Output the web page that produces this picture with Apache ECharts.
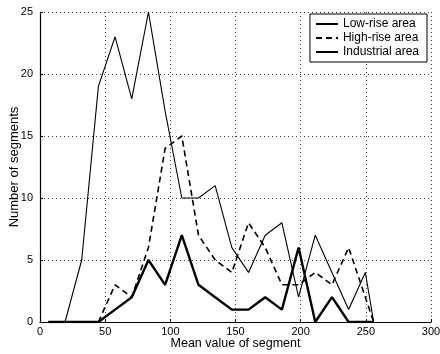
<!DOCTYPE html>
<html>
<head>
<meta charset="utf-8">
<script src="https://cdn.jsdelivr.net/npm/echarts@6/dist/echarts.min.js"></script>
<style>
  html, body { margin: 0; padding: 0; background: #fff; }
  #chart { width: 440px; height: 354px; }
</style>
</head>
<body>
<div id="chart"></div>
<script>
// Bin centres of the segment mean value histogram
const binCentres = [6.4, 19.2, 32, 44.8, 57.6, 70.4, 83.2, 96, 108.8, 121.6, 134.4,
                    147.2, 160, 172.8, 185.6, 198.4, 211.2, 224, 236.8, 249.6, 256];
// Number of segments per bin for each area type
const lowRise    = [0, 0, 5, 19, 23, 18, 25, 17, 10, 10, 11, 6, 4, 7, 8, 2, 7, 4, 1, 4, 0];
const highRise   = [0, 0, 0, 0, 3, 2, 6, 14, 15, 7, 5, 4, 8, 6, 3, 3, 4, 3, 6, 2, 0];
const industrial = [0, 0, 0, 0, 1, 2, 5, 3, 7, 3, 2, 1, 1, 2, 1, 6, 0, 2, 0, 0, 0];

const xTicks = [0, 50, 100, 150, 200, 250, 300];
const yTicks = [0, 5, 10, 15, 20, 25];

const pairs = ys => binCentres.map((x, i) => [x, ys[i]]);

const font = 'Liberation Sans, Arial, Helvetica, sans-serif';
const gridLine = { show: true, lineStyle: { color: '#444', type: [1, 3], width: 1 } };

const chart = echarts.init(document.getElementById('chart'), null, { renderer: 'canvas' });
chart.setOption({
  animation: false,
  backgroundColor: '#fff',
  textStyle: { fontFamily: font, color: '#000' },
  grid: { left: 40, right: 9, top: 12, bottom: 32, containLabel: false, outerBoundsMode: 'none' },
  legend: {
    orient: 'vertical',
    right: 13,
    top: 14,
    padding: [4, 8, 4, 5],
    itemGap: 2,
    itemWidth: 22,
    itemHeight: 12,
    backgroundColor: '#fff',
    borderColor: '#000',
    borderWidth: 1,
    borderRadius: 0,
    // line samples only, no marker in the middle
    itemStyle: { opacity: 0 },
    textStyle: { fontFamily: font, fontSize: 12, color: '#000' },
    data: ['Low-rise area', 'High-rise area', 'Industrial area']
  },
  xAxis: {
    type: 'value',
    min: xTicks[0],
    max: xTicks[xTicks.length - 1],
    interval: 50,
    name: 'Mean value of segment',
    nameLocation: 'middle',
    nameGap: 15,
    nameMoveOverlap: false,
    nameTextStyle: { fontFamily: font, fontSize: 12.5, color: '#000' },
    axisLine: { onZero: false, lineStyle: { color: '#000', width: 1.2 } },
    axisTick: { show: true, inside: true, length: 3, lineStyle: { color: '#000' } },
    axisLabel: { fontFamily: font, fontSize: 11, color: '#000', margin: 4 },
    splitLine: gridLine
  },
  yAxis: {
    type: 'value',
    min: yTicks[0],
    max: yTicks[yTicks.length - 1],
    interval: 5,
    name: 'Number of segments',
    nameLocation: 'middle',
    nameGap: 19,
    nameMoveOverlap: false,
    nameTextStyle: { fontFamily: font, fontSize: 13, color: '#000' },
    axisLine: { show: true, lineStyle: { color: '#000', width: 1.2 } },
    axisTick: { show: true, inside: true, length: 3, lineStyle: { color: '#000' } },
    axisLabel: { fontFamily: font, fontSize: 11, color: '#000', margin: 7 },
    splitLine: gridLine
  },
  series: [
    {
      name: 'Low-rise area',
      type: 'line',
      data: pairs(lowRise),
      symbol: 'none',
      lineStyle: { color: '#000', width: 1.1 },
      itemStyle: { color: '#000' }
    },
    {
      name: 'High-rise area',
      type: 'line',
      data: pairs(highRise),
      symbol: 'none',
      lineStyle: { color: '#000', width: 1.6, type: [6, 4] },
      itemStyle: { color: '#000' }
    },
    {
      name: 'Industrial area',
      type: 'line',
      data: pairs(industrial),
      symbol: 'none',
      lineStyle: { color: '#000', width: 2.4 },
      itemStyle: { color: '#000' }
    }
  ]
});
</script>
</body>
</html>
